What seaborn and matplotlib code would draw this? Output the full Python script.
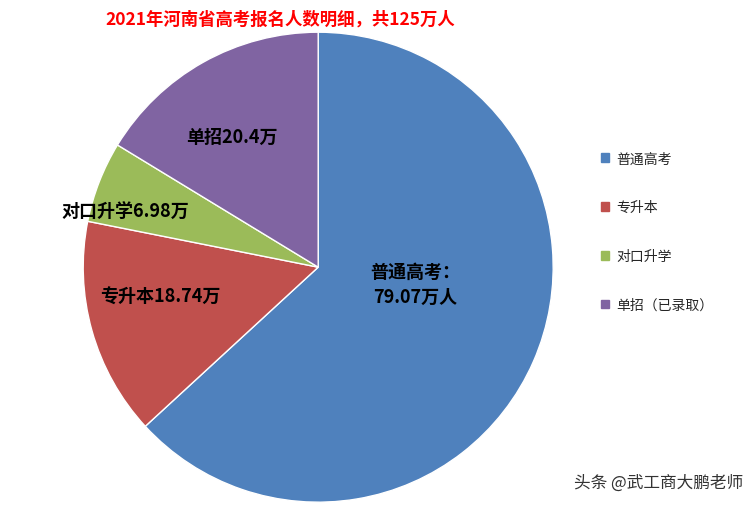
import matplotlib
matplotlib.use("Agg")
import matplotlib.pyplot as plt
import seaborn as sns
from matplotlib.patches import Patch

sns.set_theme(style="white")
plt.rcParams['font.family'] = ['Noto Sans CJK SC', 'DejaVu Sans']

categories = ["普通高考", "专升本", "对口升学", "单招（已录取）"]
values = [79.07, 18.74, 6.98, 20.4]
labels = ["普通高考：\n79.07万人", "专升本18.74万", "对口升学6.98万", "单招20.4万"]
colors = ["#4F81BD", "#C0504D", "#9BBB59", "#8064A2"]

fig = plt.figure(figsize=(7.54, 5.06), dpi=100)
ax = fig.add_axes([0.422 - 0.3117, 0.47 - 0.4644, 0.6234, 0.9288])
wedges, _ = ax.pie(values, colors=colors, startangle=90, counterclock=False,
                   wedgeprops=dict(edgecolor="white", linewidth=1))
ax.set_xlim(-1, 1); ax.set_ylim(-1, 1)

def px(x, y):
    return (x - 318) / 235, (268 - y) / 235

pos = [(415, 285), (160, 297), (125, 212), (232, 137)]
for (x, y), t in zip(pos, labels):
    ax.text(*px(x, y), t, ha="center", va="center", fontsize=13, fontweight="bold",
            color="black", linespacing=1.4)

fig.text(0.372, 0.962, "2021年河南省高考报名人数明细，共125万人", color="#FF0000",
         fontsize=12.5, fontweight="bold", ha="center", va="center")

handles = [Patch(facecolor=c, edgecolor=c) for c in colors]
fig.legend(handles, categories, loc="center left", bbox_to_anchor=(0.78, 0.54),
           frameon=False, fontsize=10, handlelength=0.6, handleheight=0.6,
           labelspacing=2.5, handletextpad=0.5)

fig.text(0.985, 0.045, "头条 @武工商大鹏老师", color="#333333", fontsize=12,
         ha="right", va="center")

fig.savefig("out.png", dpi=100)
